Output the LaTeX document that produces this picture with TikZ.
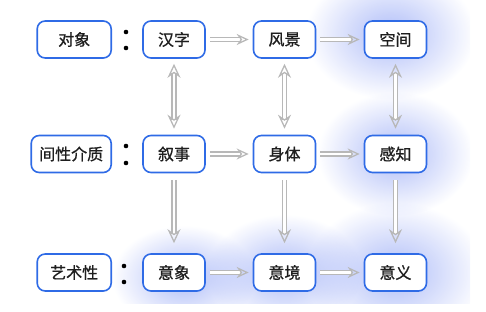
\documentclass[tikz,border=0pt]{standalone}
\usepackage{fontspec}
\setmainfont{Noto Sans CJK SC}
\newfontfamily\cjkmed{Noto Sans CJK SC}[FakeBold=0.9]
\usetikzlibrary{arrows.meta,fadings,backgrounds}
\definecolor{boxblue}{HTML}{2F6BE6}
\definecolor{textdark}{HTML}{1E1E1E}
\definecolor{arrgray}{HTML}{B8B8B8}
\definecolor{glowblue}{HTML}{6D86F2}
\tikzfading[name=glowfade, inner color=transparent!0, outer color=transparent!100]
\begin{document}
\begin{tikzpicture}[x=1pt,y=-1pt,
  box/.style={draw=boxblue, line width=1.6pt, rounded corners=8pt, fill=white,
    minimum width=62pt, minimum height=37pt, inner sep=0pt,
    font=\cjkmed\fontsize{16}{16}\selectfont, text=textdark},
  lbl/.style={box, anchor=east},
  arr/.style={draw=arrgray, line width=1.3pt, double=white, double distance=2.8pt,
    -{Stealth[open,length=12pt,width=11pt]}},
  varr/.style={draw=arrgray, line width=1.3pt, double=white, double distance=2.8pt,
    -{Stealth[open,length=14pt,width=13pt]}},
  darr/.style={varr, {Stealth[open,length=14pt,width=13pt]}-{Stealth[open,length=14pt,width=13pt]}},
  glow/.style={fill=glowblue, path fading=glowfade, fill opacity=0.55},
  dotc/.style={fill=black}
]
\useasboundingbox (0,0) rectangle (486,312);
% label column
\node[lbl, minimum width=74pt] (obj) at (112,39.5) {对象};
\node[lbl, minimum width=80pt] (med) at (112,154) {间性介质};
\node[lbl, minimum width=74pt] (art) at (112,272.5) {艺术性};
% grid
\node[box] (hz) at (174,39.5) {汉字};
\node[box] (fj) at (284.5,39.5) {风景};
\node[box] (kj) at (395.5,39.5) {空间};
\node[box] (xs) at (174,154) {叙事};
\node[box] (st) at (284.5,154) {身体};
\node[box] (gz) at (395.5,154) {感知};
\node[box] (yx) at (174,272.5) {意象};
\node[box] (yj) at (284.5,272.5) {意境};
\node[box] (yy) at (395.5,272.5) {意义};
% colons
\fill[dotc] (126,32) circle (2.3);
\fill[dotc] (126,48) circle (2.3);
\fill[dotc] (126,146) circle (2.3);
\fill[dotc] (126,163) circle (2.3);
\fill[dotc] (124,266) circle (2.3);
\fill[dotc] (124,282) circle (2.3);
% glow
\begin{pgfonlayer}{background}
\begin{scope}
\clip (0,0) rectangle (470,303);
\fill[glow] ([shift={(-5,-5)}]kj.center) ellipse (85 and 65);
\fill[glow] (gz.center) ellipse (78 and 62);
\fill[glow] (yy.center) ellipse (90 and 70);
\fill[glow] (yj.center) ellipse (78 and 58);
\fill[glow] ([shift={(10,5)}]yx.center) ellipse (72 and 52);
\end{scope}
\end{pgfonlayer}
% horizontal arrows
\foreach \a/\b in {hz/fj,fj/kj,xs/st,st/gz,yx/yj,yj/yy}
  \draw[arr, shorten <=4pt, shorten >=4pt] (\a) -- (\b);
% vertical double arrows
\foreach \a/\b in {hz/xs,fj/st,kj/gz}
  \draw[darr, shorten <=5pt, shorten >=6pt] (\a) -- (\b);
% vertical down arrows
\foreach \a/\b in {xs/yx,st/yj,gz/yy}
  \draw[varr, shorten <=7pt, shorten >=10pt] (\a) -- (\b);
\end{tikzpicture}
\end{document}
